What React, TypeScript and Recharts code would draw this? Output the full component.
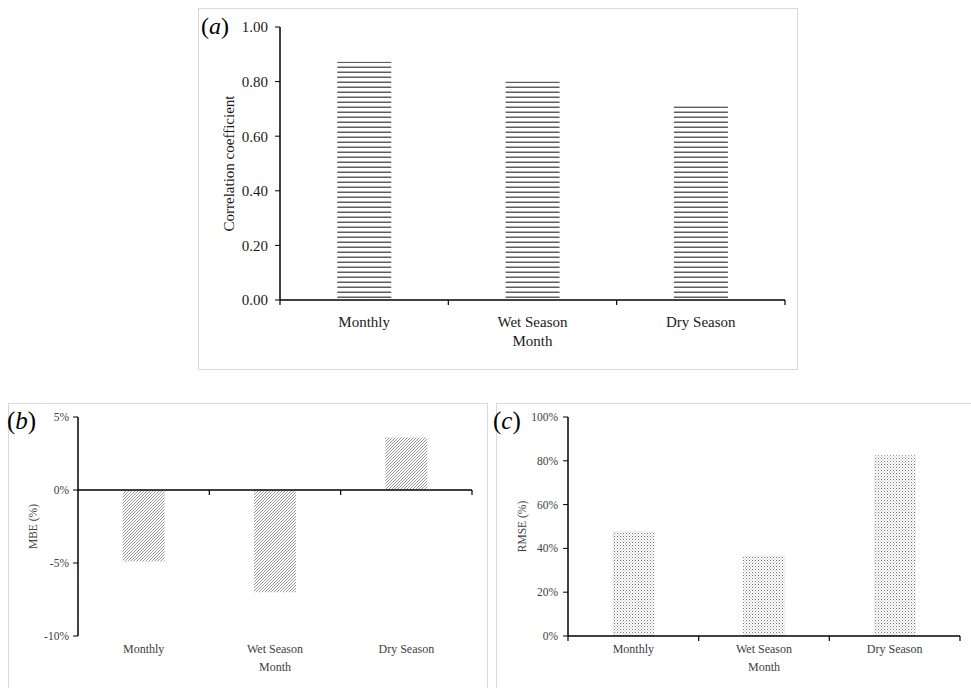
import React from 'react';
import { BarChart, Bar, XAxis, YAxis, ReferenceLine } from 'recharts';

// values
const categories = ['Monthly', 'Wet Season', 'Dry Season'];
const correlation = [0.873, 0.8, 0.71];
const mbe = [-0.049, -0.07, 0.036];
const rmse = [0.478, 0.368, 0.825];

const corrTicks = [0, 0.2, 0.4, 0.6, 0.8, 1.0];
const mbeTicks = [-0.1, -0.05, 0, 0.05];
const rmseTicks = [0, 0.2, 0.4, 0.6, 0.8, 1.0];

const FONT = '"Liberation Serif", "Times New Roman", serif';

const corrData = categories.map((name, i) => ({ name, value: correlation[i] }));
const mbeData = categories.map((name, i) => ({ name, value: mbe[i] }));
const rmseData = categories.map((name, i) => ({ name, value: rmse[i] }));

const pct = (v: number) => `${Math.round(v * 100)}%`;

// category label at band centre, tick marks on band edges (Excel style)
function CategoryTick(props: any) {
  const { x, y, payload, index, labelSize, labelColor, labelDy, marks, band } = props;
  const off = payload && payload.offset ? payload.offset : band / 2;
  return (
    <g>
      {marks && index === 0 && (
        <line x1={x - off} x2={x - off} y1={y} y2={y + 5} stroke="#000" strokeWidth={1.2} />
      )}
      {marks && <line x1={x + off} x2={x + off} y1={y} y2={y + 5} stroke="#000" strokeWidth={1.2} />}
      <text x={x} y={y + labelDy} textAnchor="middle" fontSize={labelSize} fill={labelColor} fontFamily={FONT}>
        {payload.value}
      </text>
    </g>
  );
}

// zero line for panel (b) with boundary ticks
function ZeroLine(props: any) {
  const { x1, x2, y1 } = props;
  const n = categories.length;
  const step = (x2 - x1) / n;
  const marks = [];
  for (let i = 1; i <= n; i++) {
    marks.push(<line key={i} x1={x1 + step * i} x2={x1 + step * i} y1={y1} y2={y1 + 5} stroke="#000" strokeWidth={1.2} />);
  }
  return (
    <g>
      <line x1={x1} x2={x2} y1={y1} y2={y1} stroke="#000" strokeWidth={1.5} />
      {marks}
    </g>
  );
}

const box: React.CSSProperties = {
  position: 'absolute',
  border: '1px solid #d9d9d9',
  boxSizing: 'border-box',
  background: '#fff',
};

export default function App() {
  return (
    <div
      style={{
        position: 'absolute',
        left: 0,
        top: 0,
        width: 971,
        height: 688,
        overflow: 'hidden',
        background: '#fff',
        fontFamily: FONT,
      }}
    >
      {/* (a) correlation coefficient */}
      <div style={{ ...box, left: 198, top: 8, width: 600, height: 362 }}>
        <BarChart width={598} height={360} data={corrData} margin={{ top: 18, right: 12, left: 0, bottom: 0 }} barCategoryGap="34%">
          <defs>
            <pattern id="stripesA" patternUnits="userSpaceOnUse" width={6} height={5}>
              <rect x={0} y={0} width={6} height={5} fill="#fff" />
              <rect x={0} y={2.5} width={6} height={1.5} fill="#5e5e5e" />
            </pattern>
          </defs>
          <XAxis
            dataKey="name"
            height={69}
            interval={0}
            tickSize={0}
            tickMargin={0}
            axisLine={{ stroke: '#000', strokeWidth: 1.5 }}
            tick={(p: any) => (
              <CategoryTick {...p} labelSize={15} labelColor="#1a1a1a" labelDy={27} marks band={168} />
            )}
            label={{ value: 'Month', position: 'insideBottom', offset: 23, fill: '#1a1a1a', fontSize: 15 }}
          />
          <YAxis
            width={81}
            domain={[0, 1]}
            ticks={corrTicks}
            interval={0}
            tickFormatter={(v: number) => v.toFixed(2)}
            tickSize={5}
            tickMargin={7}
            axisLine={{ stroke: '#000', strokeWidth: 1.5 }}
            tickLine={{ stroke: '#000' }}
            tick={{ fontSize: 15, fill: '#1a1a1a', fontFamily: FONT }}
            label={{
              value: 'Correlation coefficient',
              angle: -90,
              position: 'insideLeft',
              offset: 30,
              fill: '#1a1a1a',
              fontSize: 15,
              style: { textAnchor: 'middle' },
            }}
          />
          <Bar dataKey="value" fill="url(#stripesA)" isAnimationActive={false} />
        </BarChart>
      </div>

      {/* (b) MBE */}
      <div style={{ ...box, left: 8, top: 403, width: 480, height: 300 }}>
        <BarChart width={478} height={298} data={mbeData} margin={{ top: 13, right: 15, left: 0, bottom: 0 }} barCategoryGap="34%">
          <defs>
            <pattern id="hatchB" patternUnits="userSpaceOnUse" width={3} height={3}>
              <rect x={0} y={0} width={3} height={3} fill="#fff" />
              <path d="M-1,1 L1,-1 M0,3 L3,0 M2,4 L4,2" stroke="#8a8a8a" strokeWidth={0.9} />
            </pattern>
          </defs>
          <XAxis
            dataKey="name"
            height={66}
            interval={0}
            tickSize={0}
            tickMargin={0}
            axisLine={false}
            tick={(p: any) => (
              <CategoryTick {...p} labelSize={12} labelColor="#404040" labelDy={17} marks={false} band={131} />
            )}
            label={{ value: 'Month', position: 'insideBottom', offset: 31, fill: '#404040', fontSize: 12 }}
          />
          <YAxis
            width={69}
            domain={[-0.1, 0.05]}
            ticks={mbeTicks}
            interval={0}
            tickFormatter={pct}
            tickSize={5}
            tickMargin={4}
            axisLine={{ stroke: '#000', strokeWidth: 1.5 }}
            tickLine={{ stroke: '#000' }}
            tick={{ fontSize: 11.5, fill: '#404040', fontFamily: FONT }}
            label={{
              value: 'MBE (%)',
              angle: -90,
              position: 'insideLeft',
              offset: 24,
              fill: '#404040',
              fontSize: 11.5,
              style: { textAnchor: 'middle' },
            }}
          />
          <ReferenceLine y={0} shape={(p: any) => <ZeroLine {...p} />} />
          <Bar dataKey="value" fill="url(#hatchB)" isAnimationActive={false} />
        </BarChart>
      </div>

      {/* (c) RMSE */}
      <div style={{ ...box, left: 496, top: 403, width: 490, height: 300 }}>
        <BarChart width={488} height={298} data={rmseData} margin={{ top: 13, right: 25, left: 0, bottom: 0 }} barCategoryGap="34%">
          <defs>
            <pattern id="dotsC" patternUnits="userSpaceOnUse" width={3} height={3}>
              <rect x={0} y={0} width={3} height={3} fill="#fff" />
              <rect x={0} y={0} width={1} height={1} fill="#777" />
              <rect x={1.5} y={1.5} width={1} height={1} fill="#a5a5a5" />
            </pattern>
          </defs>
          <XAxis
            dataKey="name"
            height={66}
            interval={0}
            tickSize={0}
            tickMargin={0}
            axisLine={{ stroke: '#000', strokeWidth: 1.5 }}
            tick={(p: any) => (
              <CategoryTick {...p} labelSize={12} labelColor="#404040" labelDy={17} marks band={131} />
            )}
            label={{ value: 'Month', position: 'insideBottom', offset: 31, fill: '#404040', fontSize: 12 }}
          />
          <YAxis
            width={71}
            domain={[0, 1]}
            ticks={rmseTicks}
            interval={0}
            tickFormatter={pct}
            tickSize={5}
            tickMargin={5}
            axisLine={{ stroke: '#000', strokeWidth: 1.5 }}
            tickLine={{ stroke: '#000' }}
            tick={{ fontSize: 11.5, fill: '#404040', fontFamily: FONT }}
            label={{
              value: 'RMSE (%)',
              angle: -90,
              position: 'insideLeft',
              offset: 25,
              fill: '#404040',
              fontSize: 11.5,
              style: { textAnchor: 'middle' },
            }}
          />
          <Bar dataKey="value" fill="url(#dotsC)" isAnimationActive={false} />
        </BarChart>
      </div>

      {/* panel letters */}
      <svg width={971} height={688} style={{ position: 'absolute', left: 0, top: 0, pointerEvents: 'none' }}>
        <text x={201} y={34} fontSize={24} fill="#000" fontFamily={FONT}>
          (<tspan fontStyle="italic">a</tspan>)
        </text>
        <text x={7} y={429} fontSize={25} fill="#000" fontFamily={FONT}>
          (<tspan fontStyle="italic">b</tspan>)
        </text>
        <text x={493} y={429} fontSize={25} fill="#000" fontFamily={FONT}>
          (<tspan fontStyle="italic">c</tspan>)
        </text>
      </svg>
    </div>
  );
}
